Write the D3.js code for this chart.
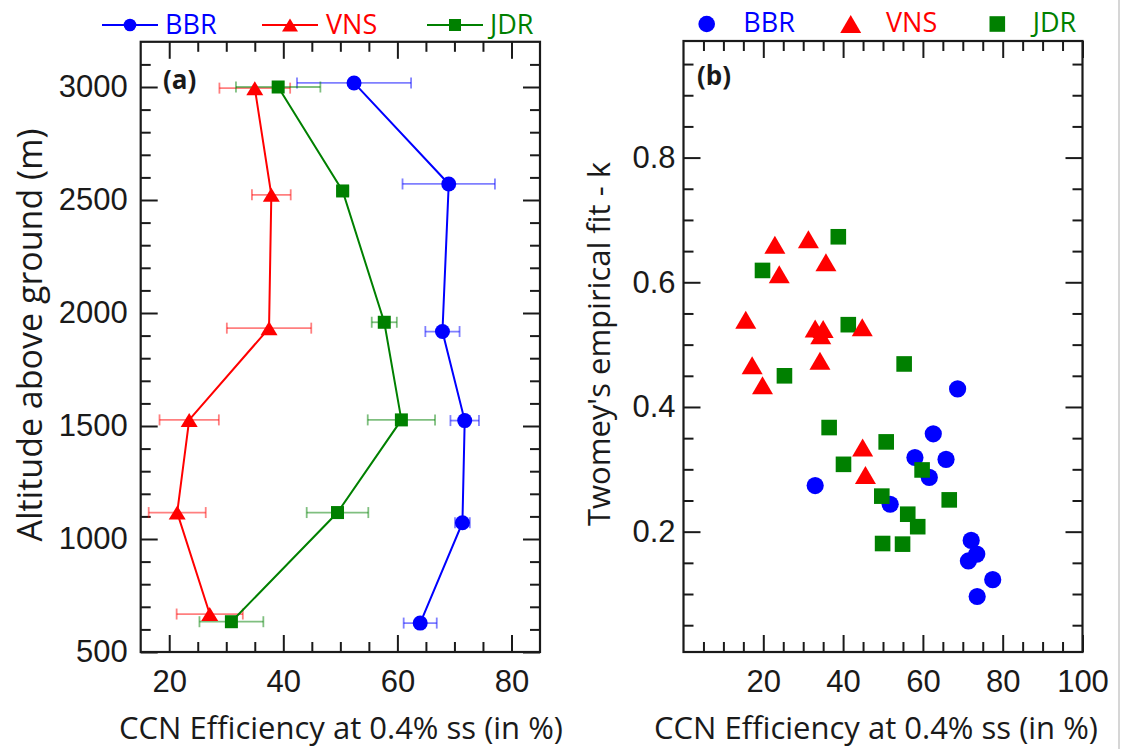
<!DOCTYPE html>
<html>
<head>
<meta charset="utf-8">
<script src="https://cdn.jsdelivr.net/npm/d3@7/dist/d3.min.js"></script>
<style>
  body { margin: 0; background: #fff; }
</style>
</head>
<body>
<div id="chart"></div>
<script>
// ---- panel (a): altitude profiles (efficiency %, altitude m, +/- error) ----
const bbrAlt = [3018, 2571, 1918, 1524, 1072, 628];
const bbrEff = [52.4, 69.0, 67.9, 71.8, 71.4, 64.0];
const bbrErr = [10.0, 8.1, 3.0, 2.5, 1.3, 2.9];

const vnsAlt = [2995, 2523, 1933, 1527, 1117, 668];
const vnsEff = [35.0, 37.9, 37.5, 23.5, 21.4, 27.1];
const vnsErr = [6.2, 3.4, 7.4, 5.2, 5.0, 5.8];

const jdrAlt = [3000, 2540, 1959, 1527, 1117, 634];
const jdrEff = [39.1, 50.4, 57.7, 60.7, 49.5, 30.9];
const jdrErr = [7.4, 1.0, 2.2, 5.9, 5.4, 5.6];

// ---- panel (b): efficiency vs Twomey k ----
const bbrX = [68.7, 62.6, 58.0, 65.8, 61.6, 33.0, 51.8, 72.1, 73.5, 71.4, 77.5, 73.6];
const bbrK = [0.429, 0.357, 0.319, 0.316, 0.287, 0.274, 0.244, 0.186, 0.164, 0.153, 0.123, 0.096];

const jdrX = [38.8, 19.8, 41.3, 55.3, 25.3, 36.5, 50.8, 40.1, 59.8, 49.7, 66.6, 56.2, 58.7, 49.9, 54.9];
const jdrK = [0.673, 0.619, 0.532, 0.469, 0.450, 0.367, 0.344, 0.308, 0.299, 0.257, 0.251, 0.228, 0.208, 0.181, 0.180];

const vnsX = [22.9, 31.3, 35.7, 24.0, 15.6, 33.0, 35.0, 34.4, 44.8, 34.2, 17.2, 19.8, 44.9, 45.6];
const vnsK = [0.660, 0.669, 0.632, 0.613, 0.540, 0.526, 0.525, 0.515, 0.528, 0.474, 0.467, 0.435, 0.335, 0.291];

// ---- ticks ----
const altTicks = [500, 1000, 1500, 2000, 2500, 3000];
const effTicksA = [20, 40, 60, 80];
const effTicksB = [20, 40, 60, 80, 100];
const kTicks = [0.2, 0.4, 0.6, 0.8];

const seriesNames = ["BBR", "VNS", "JDR"];
const blue = "#0000ff", red = "#ff0000", green = "#008000";

const W = 1123, H = 749;
const svg = d3.select("#chart").append("svg")
    .attr("width", W)
    .attr("height", H);

const tickFont = "'Liberation Sans', Arial, sans-serif";
const textFont = "'Open Sans', 'Noto Sans', sans-serif";

// scales
const xA = d3.scaleLinear().domain([15, 85]).range([140.7, 540]);
const yA = d3.scaleLinear().domain([500, 3200]).range([652, 41.8]);
const xB = d3.scaleLinear().domain([0, 100]).range([683.5, 1082.5]);
const yB = d3.scaleLinear().domain([0.007, 0.987]).range([652, 41]);

// triangle path centred on its bounding box
function tri(w, h) {
    return `M0,${-h / 2}L${w / 2},${h / 2}L${-w / 2},${h / 2}Z`;
}

function drawFrame(x, y, xMajor, xMinor, yMajor, yMinor, yFmt, yPad) {
    const g = svg.append("g");
    const [x0, x1] = x.range();
    const [y0, y1] = y.range();

    const defs = [
        [d3.axisBottom(x).tickValues(xMajor).tickSize(-17).tickPadding(18).tickFormat(d3.format("d")), `translate(0,${y0})`],
        [d3.axisBottom(x).tickValues(xMinor).tickSize(-10).tickFormat(""), `translate(0,${y0})`],
        [d3.axisTop(x).tickValues(xMajor).tickSize(-17).tickFormat(""), `translate(0,${y1})`],
        [d3.axisTop(x).tickValues(xMinor).tickSize(-10).tickFormat(""), `translate(0,${y1})`],
        [d3.axisLeft(y).tickValues(yMajor).tickSize(-17).tickPadding(yPad).tickFormat(yFmt), `translate(${x0},0)`],
        [d3.axisLeft(y).tickValues(yMinor).tickSize(-10).tickFormat(""), `translate(${x0},0)`],
        [d3.axisRight(y).tickValues(yMajor).tickSize(-17).tickFormat(""), `translate(${x1},0)`],
        [d3.axisRight(y).tickValues(yMinor).tickSize(-10).tickFormat(""), `translate(${x1},0)`]
    ];

    defs.forEach(([axis, tr]) => {
        const a = g.append("g").attr("transform", tr).call(axis);
        a.select(".domain").remove();
        a.selectAll(".tick line").attr("stroke", "#1a1a1a").attr("stroke-width", 2);
        a.selectAll(".tick text")
            .attr("fill", "#1a1a1a")
            .style("font-family", tickFont)
            .style("font-size", "31px");
    });

    g.append("rect")
        .attr("x", x0).attr("y", y1)
        .attr("width", x1 - x0).attr("height", y0 - y1)
        .attr("fill", "none")
        .attr("stroke", "#1a1a1a")
        .attr("stroke-width", 2.2);
}

// ================= panel (a) =================
drawFrame(xA, yA, effTicksA,
    d3.range(25, 85, 5).filter(v => v % 20 !== 0),
    altTicks,
    d3.range(600, 3200, 100).filter(v => v % 500 !== 0),
    d3.format("d"), 13);

const profiles = [
    {name: "BBR", color: blue, alt: bbrAlt, eff: bbrEff, err: bbrErr},
    {name: "VNS", color: red, alt: vnsAlt, eff: vnsEff, err: vnsErr},
    {name: "JDR", color: green, alt: jdrAlt, eff: jdrEff, err: jdrErr}
];

const gA = svg.append("g");

// error bars
profiles.forEach(s => {
    s.alt.forEach((a, i) => {
        const yy = yA(a), xl = xA(s.eff[i] - s.err[i]), xr = xA(s.eff[i] + s.err[i]);
        const eg = gA.append("g")
            .attr("stroke", s.color)
            .attr("stroke-opacity", 0.5)
            .attr("stroke-width", 1.8);
        eg.append("line").attr("x1", xl).attr("x2", xr).attr("y1", yy).attr("y2", yy);
        eg.append("line").attr("x1", xl).attr("x2", xl).attr("y1", yy - 5.5).attr("y2", yy + 5.5);
        eg.append("line").attr("x1", xr).attr("x2", xr).attr("y1", yy - 5.5).attr("y2", yy + 5.5);
    });
});

// lines
const lineA = d3.line()
    .x(d => xA(d[0]))
    .y(d => yA(d[1]));

profiles.forEach(s => {
    gA.append("path")
        .datum(d3.zip(s.eff, s.alt))
        .attr("d", lineA)
        .attr("fill", "none")
        .attr("stroke", s.color)
        .attr("stroke-width", 2);
});

// markers
profiles.forEach(s => {
    const pts = d3.zip(s.eff, s.alt);
    const sel = gA.selectAll(null).data(pts).enter();
    if (s.name === "BBR") {
        sel.append("circle")
            .attr("cx", d => xA(d[0])).attr("cy", d => yA(d[1]))
            .attr("r", 7.5).attr("fill", s.color);
    } else if (s.name === "VNS") {
        sel.append("path")
            .attr("d", tri(17, 14))
            .attr("transform", d => `translate(${xA(d[0])},${yA(d[1])})`)
            .attr("fill", s.color);
    } else {
        sel.append("rect")
            .attr("x", d => xA(d[0]) - 6.5).attr("y", d => yA(d[1]) - 6.5)
            .attr("width", 13).attr("height", 13)
            .attr("fill", s.color);
    }
});

gA.append("text")
    .attr("x", 163).attr("y", 89)
    .style("font-family", textFont)
    .style("font-size", "26px")
    .style("font-weight", "bold")
    .attr("fill", "#1a1a1a")
    .text("(a)");

// legend (a)
const legA = svg.append("g");
const legAPos = [{x: 102, tx: 165}, {x: 262, tx: 326}, {x: 427, tx: 490}];
profiles.forEach((s, i) => {
    const p = legAPos[i], cx = p.x + 28;
    legA.append("line")
        .attr("x1", p.x).attr("x2", p.x + 56).attr("y1", 25).attr("y2", 25)
        .attr("stroke", s.color).attr("stroke-width", 2);
    if (i === 0) legA.append("circle").attr("cx", cx).attr("cy", 25).attr("r", 6.3).attr("fill", s.color);
    if (i === 1) legA.append("path").attr("d", tri(16, 13)).attr("transform", `translate(${cx},25)`).attr("fill", s.color);
    if (i === 2) legA.append("rect").attr("x", cx - 6).attr("y", 19).attr("width", 12).attr("height", 12).attr("fill", s.color);
    legA.append("text")
        .attr("x", p.tx).attr("y", 34)
        .style("font-family", textFont)
        .style("font-size", "27px")
        .attr("fill", s.color)
        .text(s.name);
});

// axis titles (a)
svg.append("text")
    .attr("x", 341).attr("y", 739)
    .attr("text-anchor", "middle")
    .style("font-family", textFont)
    .style("font-size", "31px")
    .attr("fill", "#1a1a1a")
    .text("CCN Efficiency at 0.4% ss (in %)");

svg.append("text")
    .attr("transform", "translate(42,335) rotate(-90)")
    .attr("text-anchor", "middle")
    .style("font-family", textFont)
    .style("font-size", "34px")
    .attr("fill", "#1a1a1a")
    .text("Altitude above ground (m)");

// ================= panel (b) =================
drawFrame(xB, yB, effTicksB,
    d3.range(5, 100, 5).filter(v => v % 20 !== 0),
    kTicks,
    d3.range(1, 20).map(v => v * 0.05).filter(v => Math.abs(v * 5 - Math.round(v * 5)) > 1e-6),
    d3.format(".1f"), 8);

const gB = svg.append("g");

gB.selectAll(null).data(d3.zip(bbrX, bbrK)).enter()
    .append("circle")
    .attr("cx", d => xB(d[0])).attr("cy", d => yB(d[1]))
    .attr("r", 8.6).attr("fill", blue);

gB.selectAll(null).data(d3.zip(jdrX, jdrK)).enter()
    .append("rect")
    .attr("x", d => xB(d[0]) - 7.8).attr("y", d => yB(d[1]) - 7.8)
    .attr("width", 15.6).attr("height", 15.6)
    .attr("fill", green);

gB.selectAll(null).data(d3.zip(vnsX, vnsK)).enter()
    .append("path")
    .attr("d", tri(21, 18))
    .attr("transform", d => `translate(${xB(d[0])},${yB(d[1])})`)
    .attr("fill", red);

gB.append("text")
    .attr("x", 697).attr("y", 85)
    .style("font-family", textFont)
    .style("font-size", "26px")
    .style("font-weight", "bold")
    .attr("fill", "#1a1a1a")
    .text("(b)");

// legend (b)
const legB = svg.append("g");
legB.append("circle").attr("cx", 706.7).attr("cy", 24).attr("r", 8.3).attr("fill", blue);
legB.append("path").attr("d", tri(21, 18)).attr("transform", "translate(850.7,24)").attr("fill", red);
legB.append("rect").attr("x", 989.5).attr("y", 16.2).attr("width", 15.6).attr("height", 15.6).attr("fill", green);
[[743.3, blue], [886, red], [1032.7, green]].forEach(([tx, c], i) => {
    legB.append("text")
        .attr("x", tx).attr("y", 32)
        .style("font-family", textFont)
        .style("font-size", "27px")
        .attr("fill", c)
        .text(seriesNames[i]);
});

// axis titles (b)
svg.append("text")
    .attr("x", 876).attr("y", 739)
    .attr("text-anchor", "middle")
    .style("font-family", textFont)
    .style("font-size", "31px")
    .attr("fill", "#1a1a1a")
    .text("CCN Efficiency at 0.4% ss (in %)");

svg.append("text")
    .attr("transform", "translate(610,344) rotate(-90)")
    .attr("text-anchor", "middle")
    .style("font-family", textFont)
    .style("font-size", "31px")
    .attr("fill", "#1a1a1a")
    .text("Twomey's empirical fit - k");

// thin slide edge on the right
svg.append("line")
    .attr("x1", 1119).attr("x2", 1119).attr("y1", 0).attr("y2", H)
    .attr("stroke", "#c8c8c8").attr("stroke-width", 1.5);
</script>
</body>
</html>
